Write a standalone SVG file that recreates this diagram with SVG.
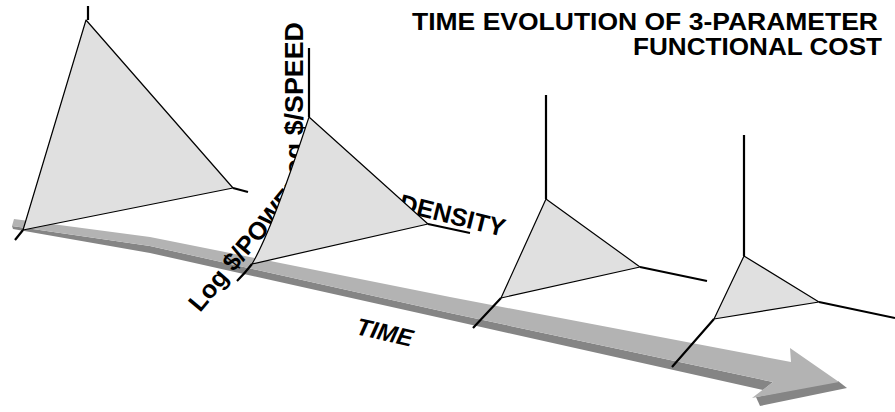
<svg xmlns="http://www.w3.org/2000/svg" width="895" height="412" viewBox="0 0 895 412">
<style>
.tri{fill:#e0e0e0;stroke:#000;stroke-width:1.2;stroke-linejoin:round}
.axis{stroke:#000;stroke-width:2.2;fill:none;stroke-linecap:butt}
.lbl{font-family:"Liberation Sans",Arial,sans-serif;font-weight:bold;fill:#000}
.top{fill:#b3b3b3}
.side{fill:#858585}
</style>
<rect width="895" height="412" fill="#fff"/>
<g id="time-arrow">
<polygon class="side" points="12,226 150,246 450,313 773,382 763,390 450,320 150,253 13,229"/>
<polygon class="side" points="756,397 838,381 847,388 760,406"/>
<polygon class="top" points="14,219 150,237 450,297 791,362 790,348 839,382 752,398 773,382 450,313 150,246 12,226"/>
</g>
<g id="labels">
<text class="lbl" font-size="25" transform="translate(303,192) rotate(-90)" textLength="170" lengthAdjust="spacingAndGlyphs">Log $/SPEED</text>
<text class="lbl" font-size="25" transform="translate(200,313) rotate(-50)">Log $/POWER</text>
<text class="lbl" font-size="25" transform="translate(307,188) rotate(14)">Log $/<tspan dx="20">DENSITY</tspan></text>
</g>
<g id="tri1">
<path class="axis" d="M88,6 L88,20 M233,188 L248,192 M23,230 L15,240"/>
<polygon class="tri" points="86,20 233,188 23,230"/>
</g>
<g id="tri2">
<path class="axis" d="M309,48 L309,117 M428,224 L470,233 M252,264 Q245,273 237,281"/>
<path class="tri" d="M309,117 L428,224 L252,264 Q272,230 309,117 Z"/>
</g>
<g id="tri3">
<path class="axis" d="M546,95 L546,199 M640,267 L707,281 M501,298 L473,328"/>
<polygon class="tri" points="546,199 640,267 501,298"/>
</g>
<g id="tri4">
<path class="axis" d="M744,135 L744,256 M819,302 L895,318 M714,319 L672,367"/>
<polygon class="tri" points="744,256 819,302 714,319"/>
</g>
<g id="time-label">
<text class="lbl" font-size="24" font-style="italic" transform="translate(355,334) rotate(13)">TIME</text>
</g>
<g id="title">
<text class="lbl" font-size="23" x="412" y="30" textLength="466" lengthAdjust="spacingAndGlyphs">TIME EVOLUTION OF 3-PARAMETER</text>
<text class="lbl" font-size="23" x="633" y="55" textLength="249" lengthAdjust="spacingAndGlyphs">FUNCTIONAL COST</text>
</g>
</svg>
